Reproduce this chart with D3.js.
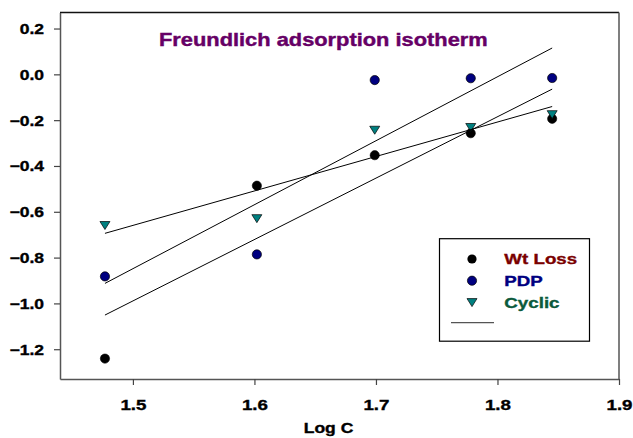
<!DOCTYPE html>
<html>
<head>
<meta charset="utf-8">
<script src="https://cdn.jsdelivr.net/npm/d3@7"></script>
<style>
  html, body { margin: 0; padding: 0; background: #fff; }
  text { font-family: Arial, "Liberation Sans", sans-serif; font-weight: bold; }
</style>
</head>
<body>
<svg id="chart" width="633" height="438"></svg>
<script>
// ---- data ----
const logC = [1.477, 1.602, 1.699, 1.778, 1.845];
const wtLoss = [-1.241, -0.486, -0.353, -0.257, -0.194];
const pdp = [-0.882, -0.786, -0.025, -0.017, -0.016];
const cyclic = [-0.660, -0.630, -0.244, -0.232, -0.176];
const seriesNames = ["Wt Loss", "PDP", "Cyclic"];
const xTicks = [1.5, 1.6, 1.7, 1.8, 1.9];
const yTicks = [0.2, 0.0, -0.2, -0.4, -0.6, -0.8, -1.0, -1.2];
const titleText = "Freundlich adsorption isotherm";
const xLabel = "Log C";

// ---- layout ----
const svg = d3.select("#chart");
const L = 60, R = 619, T = 12.5, B = 379;
const x = d3.scaleLinear().domain([1.44, 1.9]).range([L, R]);
const y = d3.scaleLinear().domain([-1.33, 0.27]).range([B, T]);
const SX = 1.25;

// frame (top and right)
svg.append("line").attr("x1", L).attr("x2", R).attr("y1", T).attr("y2", T)
  .attr("stroke", "#111").attr("stroke-width", 1.3);
svg.append("line").attr("x1", R).attr("x2", R).attr("y1", T).attr("y2", B)
  .attr("stroke", "#555").attr("stroke-width", 1.5);

// axes
const yAxis = svg.append("g").attr("transform", `translate(${L},0)`)
  .call(d3.axisLeft(y).tickValues(yTicks).tickSize(6).tickSizeOuter(0).tickFormat(d3.format(".1f")));
yAxis.selectAll("text").attr("x", null).attr("dy", "0.35em")
  .attr("transform", `translate(-16,0) scale(${SX},1)`)
  .attr("font-size", 14).attr("fill", "#000").attr("text-anchor", "end")
  .attr("stroke", "#000").attr("stroke-width", 0.35)
  .style("font-family", "Arial, 'Liberation Sans', sans-serif").style("font-weight", "bold");

const xAxis = svg.append("g").attr("transform", `translate(0,${B})`)
  .call(d3.axisBottom(x).tickValues(xTicks).tickSize(6).tickSizeOuter(0).tickFormat(d3.format(".1f")));
xAxis.selectAll("text").attr("y", null).attr("dy", null)
  .attr("transform", `translate(0,30.5) scale(${SX},1)`)
  .attr("font-size", 15).attr("fill", "#000")
  .attr("stroke", "#000").attr("stroke-width", 0.35)
  .style("font-family", "Arial, 'Liberation Sans', sans-serif").style("font-weight", "bold");
svg.selectAll(".domain").attr("stroke", "#555").attr("stroke-width", 1.5);
svg.selectAll(".tick line").attr("stroke", "#444").attr("stroke-width", 1.2);

// points
const tri = "M-5,-4L5,-4L0,4Z";
const g = svg.append("g");
g.selectAll(".wt").data(logC).join("circle")
  .attr("cx", (d) => x(d)).attr("cy", (d, i) => y(wtLoss[i])).attr("r", 4.6)
  .attr("fill", "#000").attr("stroke", "#000").attr("stroke-width", 0.6);
g.selectAll(".pdp").data(logC).join("circle")
  .attr("cx", (d) => x(d)).attr("cy", (d, i) => y(pdp[i])).attr("r", 4.6)
  .attr("fill", "#000080").attr("stroke", "#000").attr("stroke-width", 0.7);
g.selectAll(".cyc").data(logC).join("path")
  .attr("d", tri)
  .attr("transform", (d, i) => `translate(${x(d)},${y(cyclic[i])})`)
  .attr("fill", "#008080").attr("stroke", "#000").attr("stroke-width", 0.7);

// regression lines
function fit(xs, ys) {
  const mx = d3.mean(xs), my = d3.mean(ys);
  let sxy = 0, sxx = 0;
  xs.forEach((v, i) => { sxy += (v - mx) * (ys[i] - my); sxx += (v - mx) * (v - mx); });
  const b = sxy / sxx, a = my - b * mx;
  return (v) => a + b * v;
}
const x0 = d3.min(logC), x1 = d3.max(logC);
[wtLoss, pdp, cyclic].forEach((ys) => {
  const f = fit(logC, ys);
  svg.append("line")
    .attr("x1", x(x0)).attr("y1", y(f(x0)))
    .attr("x2", x(x1)).attr("y2", y(f(x1)))
    .attr("stroke", "#000").attr("stroke-width", 1);
});

// title
svg.append("text").text(titleText)
  .attr("transform", "translate(159,45.7) scale(1.214,1)")
  .attr("font-size", 18).attr("fill", "#660066")
  .attr("stroke", "#660066").attr("stroke-width", 0.4);

// x label
svg.append("text").text(xLabel)
  .attr("transform", `translate(328.5,433.3) scale(${SX},1)`)
  .attr("text-anchor", "middle").attr("font-size", 14).attr("fill", "#000")
  .attr("stroke", "#000").attr("stroke-width", 0.35);

// legend
const lg = svg.append("g");
lg.append("rect").attr("x", 439.5).attr("y", 238.7).attr("width", 150).attr("height", 102.5)
  .attr("fill", "#fff").attr("stroke", "#000").attr("stroke-width", 1.2);
const rowY = [259, 280.7, 302.6];
const colors = ["#7a0000", "#000080", "#0b5a3c"];
lg.append("circle").attr("cx", 472).attr("cy", rowY[0]).attr("r", 4.6).attr("fill", "#000");
lg.append("circle").attr("cx", 472).attr("cy", rowY[1]).attr("r", 4.6)
  .attr("fill", "#000080").attr("stroke", "#000").attr("stroke-width", 0.7);
lg.append("path").attr("d", tri).attr("transform", `translate(472,${rowY[2]})`)
  .attr("fill", "#008080").attr("stroke", "#000").attr("stroke-width", 0.7);
seriesNames.forEach((n, i) => {
  lg.append("text").text(n)
    .attr("transform", `translate(504.3,${rowY[i] + 5.3}) scale(${SX},1)`)
    .attr("font-size", 15).attr("fill", colors[i])
    .attr("stroke", colors[i]).attr("stroke-width", 0.35);
});
lg.append("line").attr("x1", 451).attr("x2", 494).attr("y1", 322.7).attr("y2", 322.7)
  .attr("stroke", "#555").attr("stroke-width", 1.3);
</script>
</body>
</html>
